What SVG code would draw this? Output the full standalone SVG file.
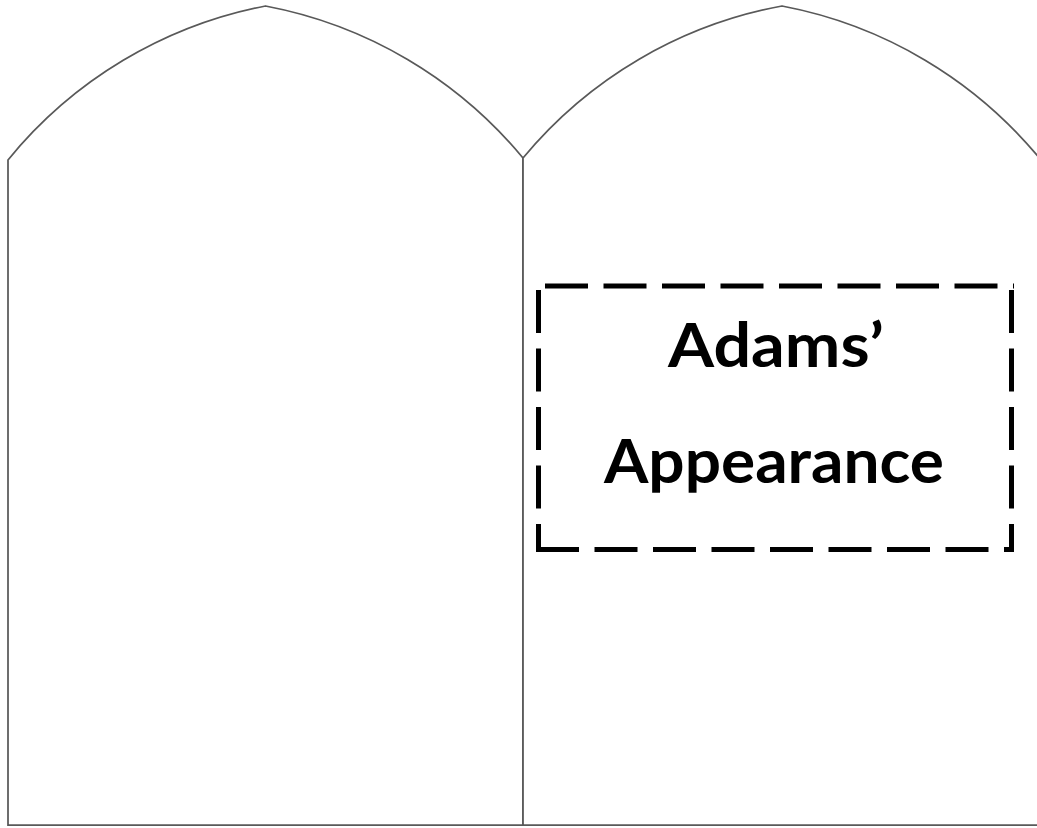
<svg xmlns="http://www.w3.org/2000/svg" width="1037" height="828" viewBox="0 0 1037 828">
  <style>
    .tab { fill: #ffffff; stroke: #595959; stroke-width: 1.75; }
    .dash { fill: none; stroke: #000000; stroke-width: 5; stroke-dasharray: 43 15.5; }
    .lbl { font-family: Lato, "Open Sans", "Liberation Sans", sans-serif; font-weight: bold; font-size: 62px; fill: #000000; text-anchor: middle; }
  </style>
  <rect width="1037" height="828" fill="#ffffff"/>
  <g id="tablet-left">
    <path class="tab" d="M8,825 L8,160 A440,440 0 0 1 265.5,6 A440,440 0 0 1 523,158 L523,825 Z"/>
  </g>
  <g id="tablet-right">
    <path class="tab" d="M523,825 L523,158 A440,440 0 0 1 782,6 A440,440 0 0 1 1041,160 L1041,825 Z"/>
  </g>
  <g id="label-box">
    <line class="dash" x1="545" y1="286" x2="1014" y2="286"/>
    <line class="dash" x1="1011.5" y1="290" x2="1011.5" y2="552"/>
    <line class="dash" x1="536" y1="549.5" x2="1011" y2="549.5"/>
    <line class="dash" x1="538.5" y1="290" x2="538.5" y2="552"/>
    <text class="lbl" x="776" y="367" textLength="216" lengthAdjust="spacingAndGlyphs">Adams’</text>
    <text class="lbl" x="774" y="483" textLength="340" lengthAdjust="spacingAndGlyphs">Appearance</text>
  </g>
</svg>
